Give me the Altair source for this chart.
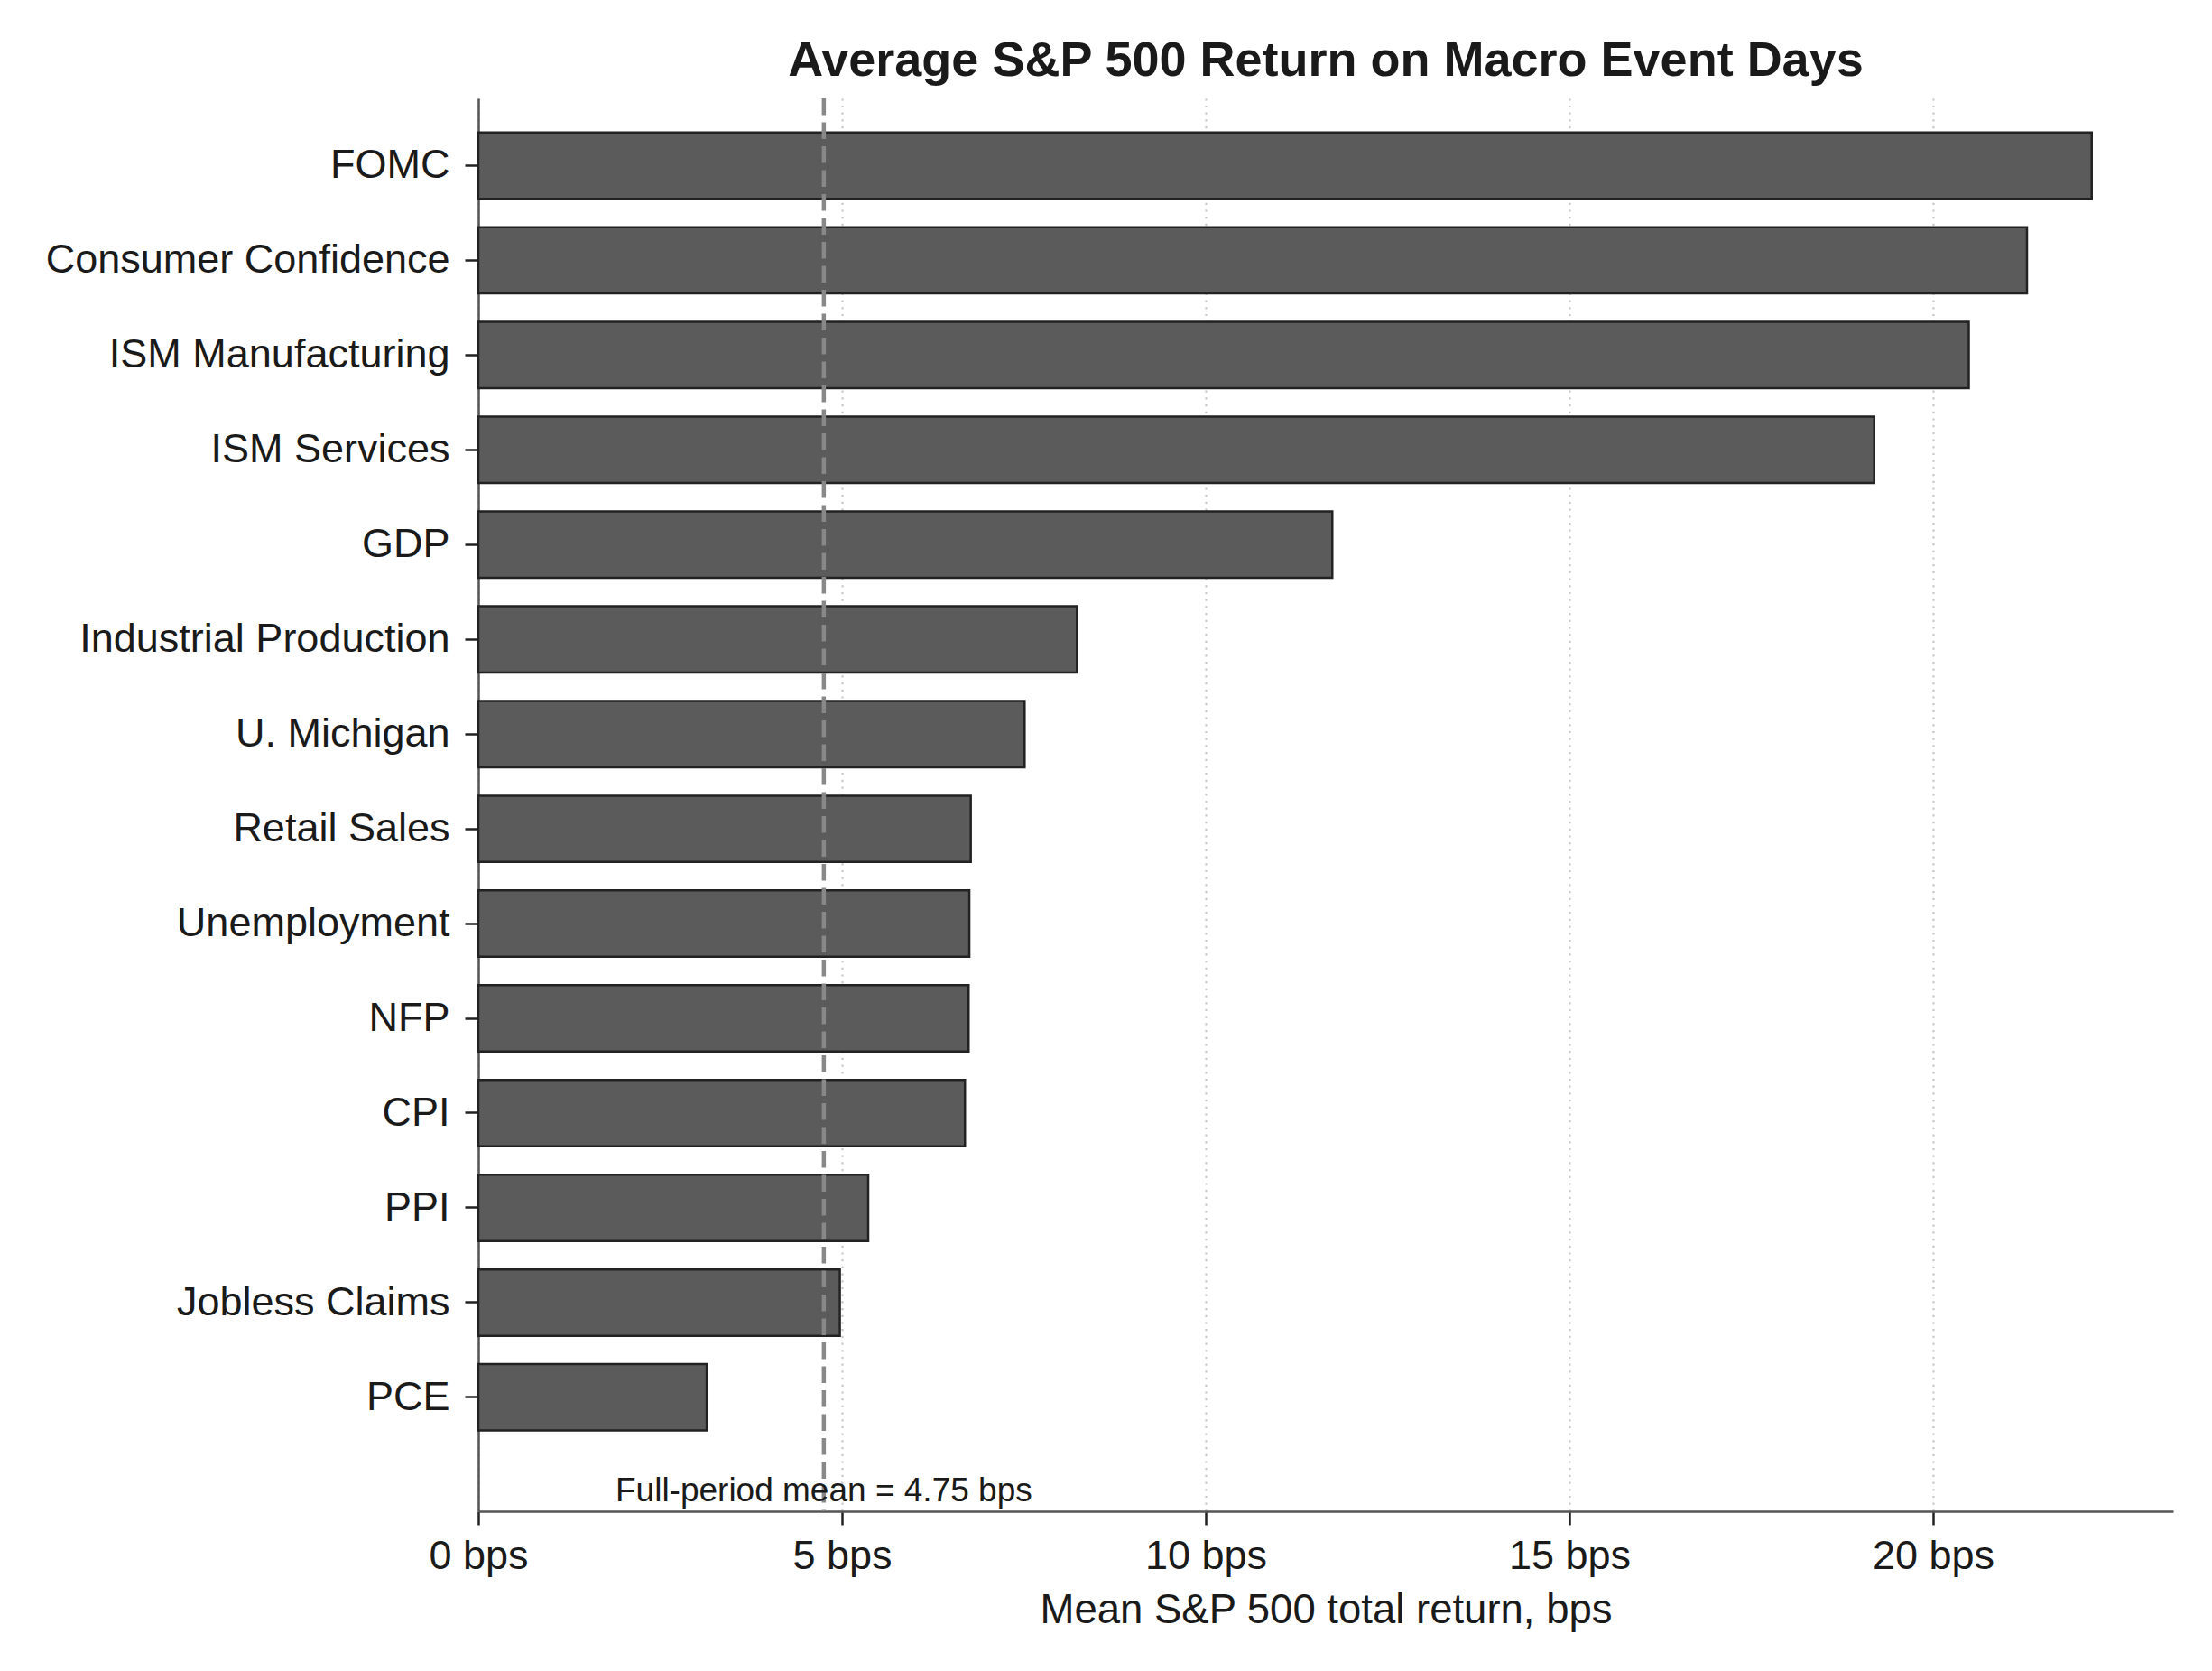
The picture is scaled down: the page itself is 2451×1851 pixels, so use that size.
import altair as alt
import pandas as pd

events = ["FOMC", "Consumer Confidence", "ISM Manufacturing", "ISM Services", "GDP",
          "Industrial Production", "U. Michigan", "Retail Sales", "Unemployment", "NFP",
          "CPI", "PPI", "Jobless Claims", "PCE"]
returns = [22.18, 21.29, 20.49, 19.19, 11.74, 8.23, 7.51, 6.77, 6.75, 6.74, 6.69, 5.36, 4.97, 3.14]
full_mean = 4.75
mean_label = "Full-period mean = 4.75 bps"
x_ticks = [0, 5, 10, 15, 20]
title_text = "Average S&P 500 Return on Macro Event Days"

FONT = "Liberation Sans"
W, H = 1878, 1565

bars_df = pd.DataFrame({"event": events, "value": returns})
mean_df = pd.DataFrame({"mean": [full_mean], "label": [mean_label]})
title_df = pd.DataFrame({"t": [title_text]})

xscale = alt.Scale(domain=[0, 23.3], nice=False, zero=True)

bars = alt.Chart(bars_df).mark_bar(
    fill="#5b5b5b", stroke="#222222", strokeWidth=2.5
).encode(
    y=alt.Y("event:N", sort=events,
            scale=alt.Scale(paddingInner=0.3, paddingOuter=0.6055, align=0.2965),
            axis=alt.Axis(title=None, grid=False, domainColor="#555555", domainWidth=2.5,
                          tickColor="#222222", tickWidth=2.5, tickSize=15,
                          labelFontSize=45, labelPadding=17, labelColor="#1a1a1a",
                          labelFont=FONT, labelLimit=1000)),
    x=alt.X("value:Q", scale=xscale,
            axis=alt.Axis(values=x_ticks, labelExpr="datum.value + ' bps'",
                          title="Mean S&P 500 total return, bps",
                          titleFontSize=45.5, titleFontWeight="normal", titleFont=FONT,
                          titleColor="#1a1a1a", titlePadding=15,
                          labelFontSize=45, labelPadding=12, labelColor="#1a1a1a",
                          labelFont=FONT, labelFlush=False,
                          tickSize=15, tickColor="#222222", tickWidth=2.5,
                          domainColor="#555555", domainWidth=2.5,
                          grid=True, gridColor="#c8c8c8", gridWidth=2.2,
                          gridDash=[2.2, 5.5])),
)

rule = alt.Chart(mean_df).mark_rule(
    color="#888888", strokeWidth=4.5, strokeDash=[18.5, 8]
).encode(x=alt.X("mean:Q", scale=xscale))

label = alt.Chart(mean_df).mark_text(
    font=FONT, fontSize=37, color="#1a1a1a", align="center", baseline="alphabetic"
).encode(x=alt.X("mean:Q", scale=xscale), y=alt.value(H - 11), text="label:N")

title = alt.Chart(title_df).mark_text(
    font=FONT, fontSize=54, fontWeight="bold", color="#1a1a1a",
    align="center", baseline="alphabetic"
).encode(x=alt.value(W / 2), y=alt.value(-25), text="t:N")

chart = alt.layer(bars, rule, label, title).properties(
    width=W, height=H,
    autosize=alt.AutoSizeParams(type="none"),
    padding={"left": 522, "top": 101, "right": 30, "bottom": 150},
).configure(background="white").configure_view(stroke=None)

chart.save("out.html", embed_options={"renderer": "svg", "actions": False})
